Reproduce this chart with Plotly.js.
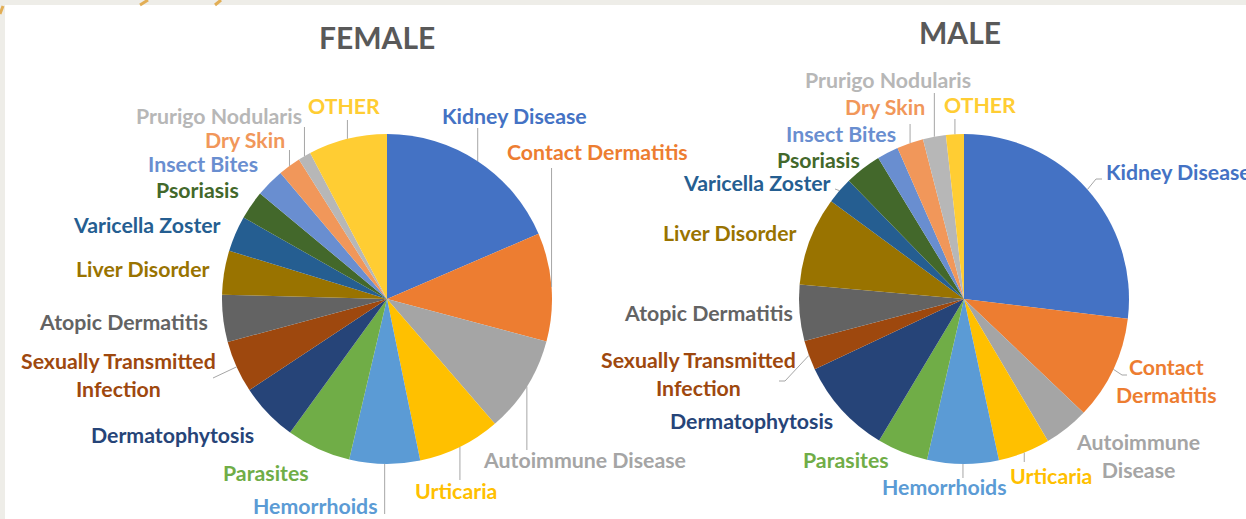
<!DOCTYPE html>
<html><head><meta charset="utf-8">
<script src="https://cdn.plot.ly/plotly-3.0.1.min.js"></script>
<style>html,body{margin:0;padding:0;background:#fff}</style>
</head><body><div id="chart" style="width:1246px;height:519px"></div>
<script>
// ---------- data ----------
const categories = ["Kidney Disease","Contact Dermatitis","Autoimmune Disease","Urticaria","Hemorrhoids","Parasites","Dermatophytosis","Sexually Transmitted Infection","Atopic Dermatitis","Liver Disorder","Varicella Zoster","Psoriasis","Insect Bites","Dry Skin","Prurigo Nodularis","OTHER"];
const femaleValues = [18.5, 10.6, 9.5, 8.1, 6.9, 6.3, 5.7, 5.1, 4.6, 4.3, 3.5, 2.8, 2.8, 2.2, 1.25, 7.7];
const maleValues   = [26.9, 10.2, 4.4, 5.1, 7.0, 5.0, 9.4, 2.9, 5.5, 8.7, 2.6, 3.6, 2.1, 2.6, 2.25, 1.75];
const femaleLabelText = ["Kidney Disease","Contact Dermatitis","Autoimmune Disease","Urticaria","Hemorrhoids","Parasites","Dermatophytosis","Sexually Transmitted<br>Infection","Atopic Dermatitis","Liver Disorder","Varicella Zoster","Psoriasis","Insect Bites","Dry Skin","Prurigo Nodularis","OTHER"];
const maleLabelText = ["Kidney Disease","Contact<br>Dermatitis","Autoimmune<br>Disease","Urticaria","Hemorrhoids","Parasites","Dermatophytosis","Sexually Transmitted<br>Infection","Atopic Dermatitis","Liver Disorder","Varicella Zoster","Psoriasis","Insect Bites","Dry Skin","Prurigo Nodularis","OTHER"];
const panelTitles = ["FEMALE","MALE"];

// ---------- styles / layout ----------
const sliceColors = ["#4472C4","#ED7D31","#A5A5A5","#FFC000","#5B9BD5","#70AD47","#264478","#9E480E","#636363","#997300","#255E91","#43682B","#698ED0","#F1975A","#B7B7B7","#FFCD33"];
const W = 1246, H = 519;
const FONT = "Lato, 'Open Sans', sans-serif";
const px = x => x / W, py = y => 1 - y / H;

const pies = [
  {cx: 387, cy: 299, r: 165, title: {x: 377, y: 37},
   labelPos: [[514,116,'center'],[597,152,'center'],[584,460,'center'],[456,491,'center'],[315,506,'center'],[266,473,'center'],[172,435,'center'],[118,375,'center'],[123,322,'center'],[143,269,'center'],[147,225,'center'],[197,190,'center'],[203,164,'center'],[245,140,'center'],[219,116,'center'],[344,106,'center']],
   leaders: [{i:0, toY:128},{i:1, toY:168},{i:2, toY:450},{i:3, toY:480},{i:4, toY:514},{i:7, pts:[[213,378]]},{i:13, toY:150},{i:14, toY:127},{i:15, toY:120}]},
  {cx: 964, cy: 299, r: 165, title: {x: 960, y: 32},
   labelPos: [[1104,172,'left'],[1166,381,'center'],[1138,456,'center'],[1051,476,'center'],[944,487,'center'],[846,460,'center'],[751,421,'center'],[698,374,'center'],[708,313,'center'],[730,233,'center'],[757,183,'center'],[818,160,'center'],[841,134,'center'],[885,107,'center'],[888,80,'center'],[980,105,'center']],
   leaders: [{i:0, pts:[[1096,179],[1102,179]]},{i:1, pts:[[1122,375],[1127,375]]},{i:3, toY:462},{i:4, toY:478},{i:7, pts:[[785,381],[779,381]]},{i:10, pts:[[835,189]]},{i:13, toY:124},{i:14, toY:93},{i:15, toY:119}]}
];
const seriesValues = [femaleValues, maleValues];
const seriesLabels = [femaleLabelText, maleLabelText];

function edgePoint(p, vals, i) {
  const tot = vals.reduce((a, b) => a + b, 0);
  let before = 0; for (let k = 0; k < i; k++) before += vals[k];
  const a = (before + vals[i] / 2) / tot * 2 * Math.PI;
  return [p.cx + p.r * Math.sin(a), p.cy - p.r * Math.cos(a)];
}

const traces = [], annotations = [], shapes = [];
shapes.push({type:'rect', xref:'paper', yref:'paper', x0:px(5), x1:1, y0:0, y1:py(5), fillcolor:'#FFFFFF', line:{width:0}, layer:'below'});
// decorative gold strokes in the frame
[[[140,5],[148,0]],[[215,5],[221,0]],[[0,14],[3,6]]].forEach(s => shapes.push({type:'line', xref:'paper', yref:'paper', x0:px(s[0][0]), y0:py(s[0][1]), x1:px(s[1][0]), y1:py(s[1][1]), line:{color:'#E2AE55', width:3}, layer:'below'}));

pies.forEach((p, k) => {
  const vals = seriesValues[k];
  traces.push({
    type: 'pie', values: vals, labels: categories, sort: false, direction: 'clockwise', rotation: 0,
    textinfo: 'none', hoverinfo: 'label+percent', showlegend: false,
    marker: {colors: sliceColors, line: {width: 0}},
    domain: {x: [px(p.cx - p.r), px(p.cx + p.r)], y: [py(p.cy + p.r), py(p.cy - p.r)]}
  });
  annotations.push({xref:'paper', yref:'paper', x:px(p.title.x), y:py(p.title.y), text:'<b>' + panelTitles[k] + '</b>', showarrow:false, xanchor:'center', yanchor:'middle', font:{family:FONT, size:30, color:'#595959'}});
  seriesLabels[k].forEach((t, i) => {
    const lp = p.labelPos[i];
    annotations.push({xref:'paper', yref:'paper', x:px(lp[0]), y:py(lp[1]), text:'<b>' + t + '</b>', showarrow:false, xanchor:lp[2], yanchor:'middle', align:'center', font:{family:FONT, size:21.3, color:sliceColors[i]}});
  });
  p.leaders.forEach(l => {
    const e = edgePoint(p, vals, l.i);
    const pts = [e].concat(l.toY !== undefined ? [[e[0], l.toY]] : l.pts);
    const path = pts.map((q, j) => (j ? 'L' : 'M') + px(q[0]) + ',' + py(q[1])).join(' ');
    shapes.push({type:'path', xref:'paper', yref:'paper', path: path, line:{color:'#A6A6A6', width:1}});
  });
});

Plotly.newPlot('chart', traces, {
  width: W, height: H, margin: {l:0, r:0, t:0, b:0},
  paper_bgcolor: '#EEEDE8', plot_bgcolor: '#FFFFFF',
  annotations: annotations, shapes: shapes, showlegend: false
}, {displayModeBar: false, staticPlot: true});
</script></body></html>
